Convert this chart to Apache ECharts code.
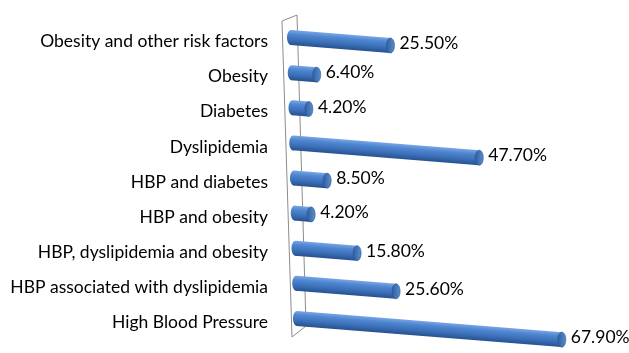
<!DOCTYPE html>
<html>
<head>
<meta charset="utf-8">
<script src="https://cdn.jsdelivr.net/npm/echarts@6/dist/echarts.min.js"></script>
<style>
  html, body { margin: 0; padding: 0; background: #fff; }
  #chart { width: 629px; height: 353px; }
</style>
</head>
<body>
<div id="chart"></div>
<script>
const categories = [
  "Obesity and other risk factors",
  "Obesity",
  "Diabetes",
  "Dyslipidemia",
  "HBP and diabetes",
  "HBP and obesity",
  "HBP, dyslipidemia and obesity",
  "HBP associated with dyslipidemia",
  "High Blood Pressure"
];
const values = [25.5, 6.4, 4.2, 47.7, 8.5, 4.2, 15.8, 25.6, 67.9];
const valueLabels = values.map(v => v.toFixed(2) + "%");

const chart = echarts.init(document.getElementById("chart"));

// fake 3d: bars slope down to the right, rows shift right a bit going down
const slope = 0.08;
const rowShift = 6;
const radius = 7.5;
const capRx = 4;
const fontSize = 17.5;

function renderWall(params) {
  const cs = params.coordSys;
  const x0 = cs.x;
  const top = cs.y;
  const bot = cs.y + cs.height;
  return {
    type: "polygon",
    shape: {
      points: [
        [x0 - 9, top - 3],
        [x0 + 6, top - 9],
        [x0 + 15, bot - 14],
        [x0 + 1, bot - 3]
      ]
    },
    style: { fill: null, stroke: "#8c8c8c", lineWidth: 1 }
  };
}

function renderBar(params, api) {
  const i = api.value(0);
  const v = api.value(1);
  const s = api.coord([0, i]);
  const e = api.coord([v, i]);
  const dx = rowShift * i / (categories.length - 1);
  const xl = s[0] + dx;
  const yl = s[1] - 4;
  const xr = e[0] + dx;
  const yr = yl + slope * (xr - xl);
  const len = Math.hypot(xr - xl, yr - yl);
  const nx = -(yr - yl) / len;
  const ny = (xr - xl) / len;

  const grad = new echarts.graphic.LinearGradient(
    xl - nx * radius, yl - ny * radius, xl + nx * radius, yl + ny * radius,
    [
      { offset: 0, color: "#79a6e6" },
      { offset: 0.28, color: "#4f86d0" },
      { offset: 0.65, color: "#3b6fb8" },
      { offset: 1, color: "#26518e" }
    ],
    true
  );
  const capGrad = new echarts.graphic.LinearGradient(
    xr - capRx, yr, xr + capRx, yr,
    [
      { offset: 0, color: "#2f5f9f" },
      { offset: 1, color: "#5a8ccc" }
    ],
    true
  );

  return {
    type: "group",
    children: [
      {
        type: "ellipse",
        shape: { cx: xl, cy: yl, rx: capRx, ry: radius },
        style: { fill: grad }
      },
      {
        type: "polygon",
        shape: {
          points: [
            [xl - nx * radius, yl - ny * radius],
            [xr - nx * radius, yr - ny * radius],
            [xr + nx * radius, yr + ny * radius],
            [xl + nx * radius, yl + ny * radius]
          ]
        },
        style: { fill: grad }
      },
      {
        type: "ellipse",
        shape: { cx: xr, cy: yr, rx: capRx, ry: radius },
        style: { fill: capGrad, stroke: "#2a5590", lineWidth: 0.6 }
      },
      {
        type: "text",
        style: {
          text: valueLabels[i],
          x: xr + capRx + 5,
          y: yr - 2,
          verticalAlign: "middle",
          fill: "#000",
          fontSize: fontSize,
          fontFamily: "Lato"
        }
      }
    ]
  };
}

const option = {
  animation: false,
  grid: { left: 291, top: 24, width: 312, height: 316 },
  xAxis: { type: "value", min: 0, max: 80, show: false },
  yAxis: {
    type: "category",
    data: categories,
    inverse: true,
    axisLine: { show: false },
    axisTick: { show: false },
    splitLine: { show: false },
    axisLabel: { fontFamily: "Lato", fontSize: fontSize, color: "#000", margin: 23 }
  },
  series: [
    {
      name: "wall",
      type: "custom",
      renderItem: renderWall,
      data: [[0, 0]],
      encode: { x: 1, y: 0 },
      clip: false,
      silent: true,
      z: 1
    },
    {
      name: "bars",
      type: "custom",
      renderItem: renderBar,
      data: values.map((v, i) => [i, v]),
      encode: { x: 1, y: 0 },
      clip: false,
      z: 2
    }
  ]
};

chart.setOption(option);
</script>
</body>
</html>
